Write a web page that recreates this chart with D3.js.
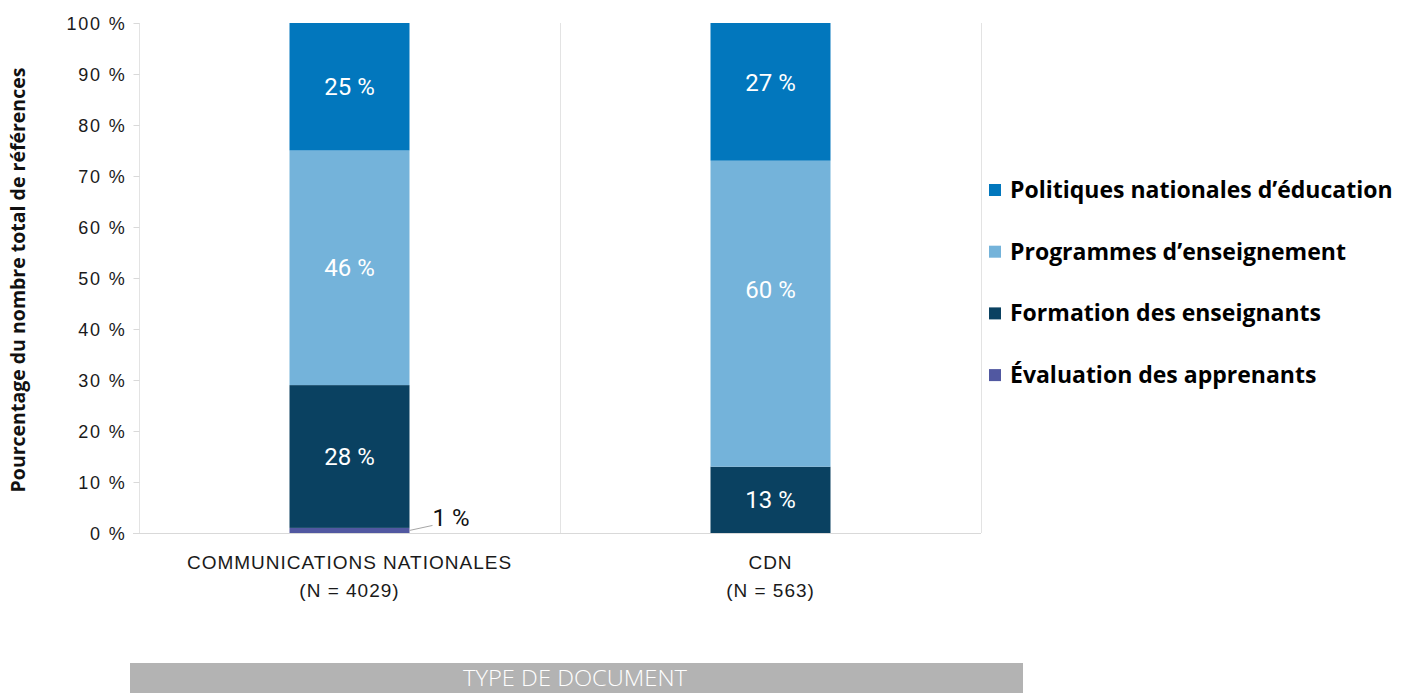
<!DOCTYPE html>
<html lang="fr">
<head>
<meta charset="utf-8">
<script src="https://cdn.jsdelivr.net/npm/d3@7"></script>
<style>
  html, body { margin: 0; padding: 0; background: #ffffff; }
  svg { display: block; }
</style>
</head>
<body>
<svg id="chart" width="1410" height="693"></svg>
<script>
// Document types (x categories) and their two-line labels
const categories = ["COMMUNICATIONS NATIONALES", "CDN"];
const categorySubLabels = ["(N = 4029)", "(N = 563)"];

// Series, stacked from bottom to top
const seriesNames = [
  "Évaluation des apprenants",
  "Formation des enseignants",
  "Programmes d’enseignement",
  "Politiques nationales d’éducation"
];
const evaluationValues  = [1, 0];
const formationValues   = [28, 13];
const programmesValues  = [46, 60];
const politiquesValues  = [25, 27];

const yTicks = [0, 10, 20, 30, 40, 50, 60, 70, 80, 90, 100];
const yTitle = "Pourcentage du nombre total de références";
const xTitle = "TYPE DE DOCUMENT";

const seriesColors = ["#5158A1", "#0A4161", "#74B3DA", "#0277BD"];

// Manual nudges (px) for a few value labels that sit off-centre in their segment
const labelNudge = {
  "CDN|Politiques nationales d’éducation": -9,
  "CDN|Programmes d’enseignement": -24
};

const rows = categories.map((c, i) => ({
  category: c,
  [seriesNames[0]]: evaluationValues[i],
  [seriesNames[1]]: formationValues[i],
  [seriesNames[2]]: programmesValues[i],
  [seriesNames[3]]: politiquesValues[i]
}));

const svg = d3.select("#chart");
const plot = { left: 139, right: 981, top: 23, bottom: 533 };

const x = d3.scaleBand().domain(categories).range([plot.left, plot.right]).paddingInner(0).paddingOuter(0);
const barWidth = 120;
const y = d3.scaleLinear().domain([0, 100]).range([plot.bottom, plot.top]);
const color = d3.scaleOrdinal().domain(seriesNames).range(seriesColors);

const layers = d3.stack().keys(seriesNames)(rows);

// Category separators (vertical light grid lines)
const seps = [plot.left, ...categories.map(c => x(c) + x.bandwidth())];
svg.append("g").selectAll("line").data(seps).join("line")
  .attr("x1", d => d + 0.5).attr("x2", d => d + 0.5)
  .attr("y1", plot.top).attr("y2", plot.bottom)
  .attr("stroke", "#E3E3E3").attr("stroke-width", 1);

// Y axis
const yAxis = d3.axisLeft(y).tickValues(yTicks).tickFormat(d => d + " %").tickSize(6).tickPadding(7);
const yG = svg.append("g").attr("transform", `translate(${plot.left + 0.5},0)`).call(yAxis);
yG.select(".domain").remove();
yG.selectAll(".tick line").attr("stroke", "#D9D9D9");
yG.selectAll(".tick text")
  .attr("fill", "#1a1a1a")
  .attr("dy", "0.36em")
  .style("font-family", "'Liberation Sans', Arial, sans-serif")
  .style("font-size", "18px")
  .style("letter-spacing", "1.8px");

// Baseline
svg.append("line")
  .attr("x1", plot.left - 6).attr("x2", plot.right)
  .attr("y1", plot.bottom + 0.5).attr("y2", plot.bottom + 0.5)
  .attr("stroke", "#D9D9D9");

// Stacked bars
const barX = c => x(c) + (x.bandwidth() - barWidth) / 2;
layers.forEach(layer => {
  svg.append("g").selectAll("rect").data(layer).join("rect")
    .attr("x", d => barX(d.data.category))
    .attr("width", barWidth)
    .attr("y", d => y(d[1]))
    .attr("height", d => y(d[0]) - y(d[1]))
    .attr("fill", color(layer.key));
});

// Value labels: inside segments in white, tiny segment labelled outside with a leader
const labelFont = "Roboto, 'Liberation Sans', Arial, sans-serif";
layers.forEach(layer => {
  layer.forEach(d => {
    const v = d[1] - d[0];
    if (v <= 0) return;
    const cx = barX(d.data.category) + barWidth / 2;
    if (v < 3) {
      const x0 = barX(d.data.category) + barWidth;
      const yy = y((d[0] + d[1]) / 2);
      svg.append("line")
        .attr("x1", x0).attr("y1", yy)
        .attr("x2", x0 + 23).attr("y2", yy - 5)
        .attr("stroke", "#A6A6A6").attr("stroke-width", 1);
      svg.append("text")
        .attr("x", x0 + 23).attr("y", yy - 13)
        .attr("dy", "0.35em")
        .attr("text-anchor", "start")
        .attr("fill", "#111")
        .style("font-family", labelFont).style("font-size", "24px")
        .text(v + " %");
    } else {
      const nudge = labelNudge[d.data.category + "|" + layer.key] || 0;
      svg.append("text")
        .attr("x", cx).attr("y", y((d[0] + d[1]) / 2) + nudge)
        .attr("dy", "0.35em")
        .attr("text-anchor", "middle")
        .attr("fill", "#ffffff")
        .style("font-family", labelFont).style("font-size", "24px")
        .text(v + " %");
    }
  });
});

// Category labels
categories.forEach((c, i) => {
  const cx = x(c) + x.bandwidth() / 2;
  const t = svg.append("text")
    .attr("text-anchor", "middle")
    .attr("fill", "#1a1a1a")
    .style("font-family", "'Liberation Sans', Arial, sans-serif").style("font-size", "19px")
    .style("letter-spacing", "1px");
  t.append("tspan").attr("x", cx).attr("y", 569).text(c);
  t.append("tspan").attr("x", cx).attr("y", 597).text(categorySubLabels[i]);
});

// Y axis title
svg.append("text")
  .attr("transform", `translate(18, ${(plot.top + plot.bottom) / 2 + 2}) rotate(-90)`)
  .attr("text-anchor", "middle")
  .attr("dy", "0.35em")
  .attr("fill", "#111")
  .style("font-family", "'Open Sans', sans-serif")
  .style("font-weight", "700")
  .style("font-size", "19.5px")
  .text(yTitle);

// Legend (top series first)
const legendItems = seriesNames.slice().reverse();
const lg = svg.append("g");
legendItems.forEach((name, i) => {
  const cy = 190 + i * 61.7;
  lg.append("rect")
    .attr("x", 989).attr("y", cy - 6)
    .attr("width", 12).attr("height", 12)
    .attr("fill", color(name));
  lg.append("text")
    .attr("x", 1010).attr("y", cy)
    .attr("dy", "0.35em")
    .attr("fill", "#000")
    .style("font-family", "'Open Sans', sans-serif")
    .style("font-weight", "700")
    .style("font-size", "23px")
    .text(name);
});

// X axis title band
svg.append("rect")
  .attr("x", 130).attr("y", 663)
  .attr("width", 893).attr("height", 30)
  .attr("fill", "#B3B3B3");
svg.append("text")
  .attr("x", 463).attr("y", 686)
  .attr("textLength", 224)
  .attr("lengthAdjust", "spacingAndGlyphs")
  .attr("fill", "#ffffff")
  .style("font-family", "'Open Sans', sans-serif")
  .style("font-weight", "300")
  .style("font-size", "22px")
  .text(xTitle);
</script>
</body>
</html>
